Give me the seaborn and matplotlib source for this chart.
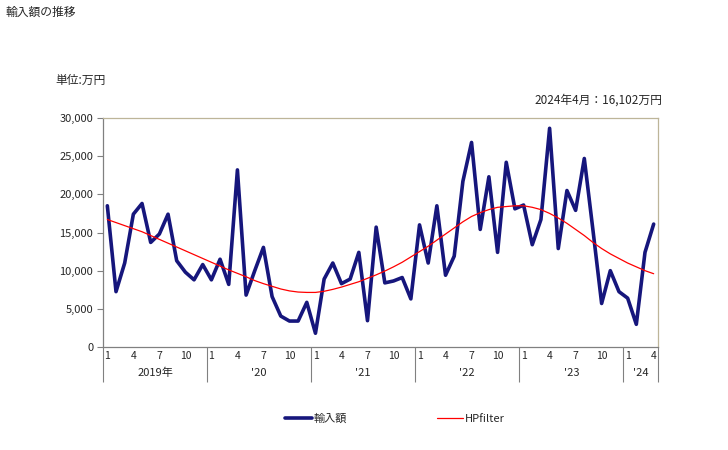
import numpy as np
import pandas as pd
import seaborn as sns
import matplotlib.pyplot as plt
from matplotlib.ticker import FuncFormatter, FixedLocator

# monthly import value (10k yen), Jan 2019 .. Apr 2024
imports = [
    18500, 7250, 11000, 17400, 18800, 13700, 14800, 17400, 11300, 9800, 8800, 10800,
    8800, 11500, 8200, 23200, 6800, 10000, 13050, 6600, 4050, 3400, 3400, 5850,
    1800, 8900, 11000, 8300, 8900, 12400, 3450, 15700, 8400, 8650, 9100, 6300,
    16000, 11000, 18500, 9400, 11900, 21700, 26800, 15400, 22300, 12400, 24200, 18100,
    18600, 13400, 16700, 28650, 12900, 20500, 17900, 24700, 15300, 5700, 10000, 7250,
    6400, 2970, 12400, 16102,
]
hp_trend = [
    16700, 16300, 15900, 15500, 15100, 14600, 14100, 13600, 13100, 12600, 12100, 11600,
    11100, 10600, 10100, 9650, 9200, 8700, 8300, 7950, 7600, 7350, 7200, 7150,
    7150, 7300, 7550, 7850, 8200, 8550, 9000, 9450, 9950, 10500, 11100, 11800,
    12500, 13200, 14000, 14800, 15600, 16400, 17100, 17600, 18000, 18300, 18400, 18500,
    18500, 18300, 18000, 17500, 16900, 16200, 15400, 14600, 13700, 12900, 12200, 11600,
    11000, 10500, 10000, 9600,
]
year_labels = ["2019年", "'20", "'21", "'22", "'23", "'24"]

months = [(i % 12) + 1 for i in range(len(imports))]
df = pd.DataFrame({"idx": np.arange(len(imports)), "month": months,
                   "輸入額": imports, "HPfilter": hp_trend})

sns.set_style("white")
plt.rcParams['font.family'] = ['Noto Sans CJK JP', 'DejaVu Sans']

fig = plt.figure(figsize=(7.28, 4.5), dpi=100)
ax = fig.add_axes([103 / 728, 1 - 347 / 450, 555 / 728, 229 / 450])

sns.lineplot(data=df, x="idx", y="輸入額", ax=ax, color="#16167c", linewidth=2.6, label="輸入額")
sns.lineplot(data=df, x="idx", y="HPfilter", ax=ax, color="#ff0000", linewidth=0.9, label="HPfilter")

n = len(imports)
ax.set_xlim(-0.5, n - 0.5)
ax.set_ylim(0, 30000)
ax.set_yticks(range(0, 30001, 5000))
ax.yaxis.set_major_formatter(FuncFormatter(lambda v, p: f"{int(v):,}"))
ax.tick_params(axis="y", which="major", length=4, width=0.8, color="#808080",
               labelsize=8, pad=3, left=True)

# month labels 1,4,7,10 at data positions
mpos = [i for i, m in enumerate(months) if m in (1, 4, 7, 10)]
ax.xaxis.set_major_locator(FixedLocator(mpos))
ax.set_xticklabels([str(months[i]) for i in mpos])
ax.tick_params(axis="x", which="major", length=0, labelsize=7.5, pad=3)

# year separators as long minor ticks
bounds = [b - 0.5 for b in range(0, n, 12)] + [n - 0.5]
ax.xaxis.set_minor_locator(FixedLocator(bounds))
ax.tick_params(axis="x", which="minor", length=25, width=0.8, color="#808080", bottom=True)

trans = ax.get_xaxis_transform()
for k, lab in enumerate(year_labels):
    lo = k * 12 - 0.5
    hi = min((k + 1) * 12, n) - 0.5
    ax.text((lo + hi) / 2, -0.113, lab, transform=trans, ha="center", va="center", fontsize=8)

ax.set_xlabel("")
ax.set_ylabel("")
for side in ["left", "bottom"]:
    ax.spines[side].set_color("#808080")
    ax.spines[side].set_linewidth(0.9)
for side in ["top", "right"]:
    ax.spines[side].set_color("#bdb599")
    ax.spines[side].set_linewidth(0.9)

ax.get_legend().remove()
h, l = ax.get_legend_handles_labels()
fig.legend(h, l, loc="center", bbox_to_anchor=(395 / 728, 1 - 419 / 450), ncol=2,
           frameon=False, fontsize=8, handlelength=2.4, handletextpad=0.15,
           columnspacing=8.1)

fig.text(5 / 728, 1 - 12 / 450, "輸入額の推移", fontsize=8.5, ha="left", va="center")
fig.text(55 / 728, 1 - 80 / 450, "単位:万円", fontsize=8.5, ha="left", va="center")
fig.text(662 / 728, 1 - 100 / 450, "2024年4月：16,102万円", fontsize=8.5, ha="right", va="center")

fig.savefig("out.png", dpi=100)
